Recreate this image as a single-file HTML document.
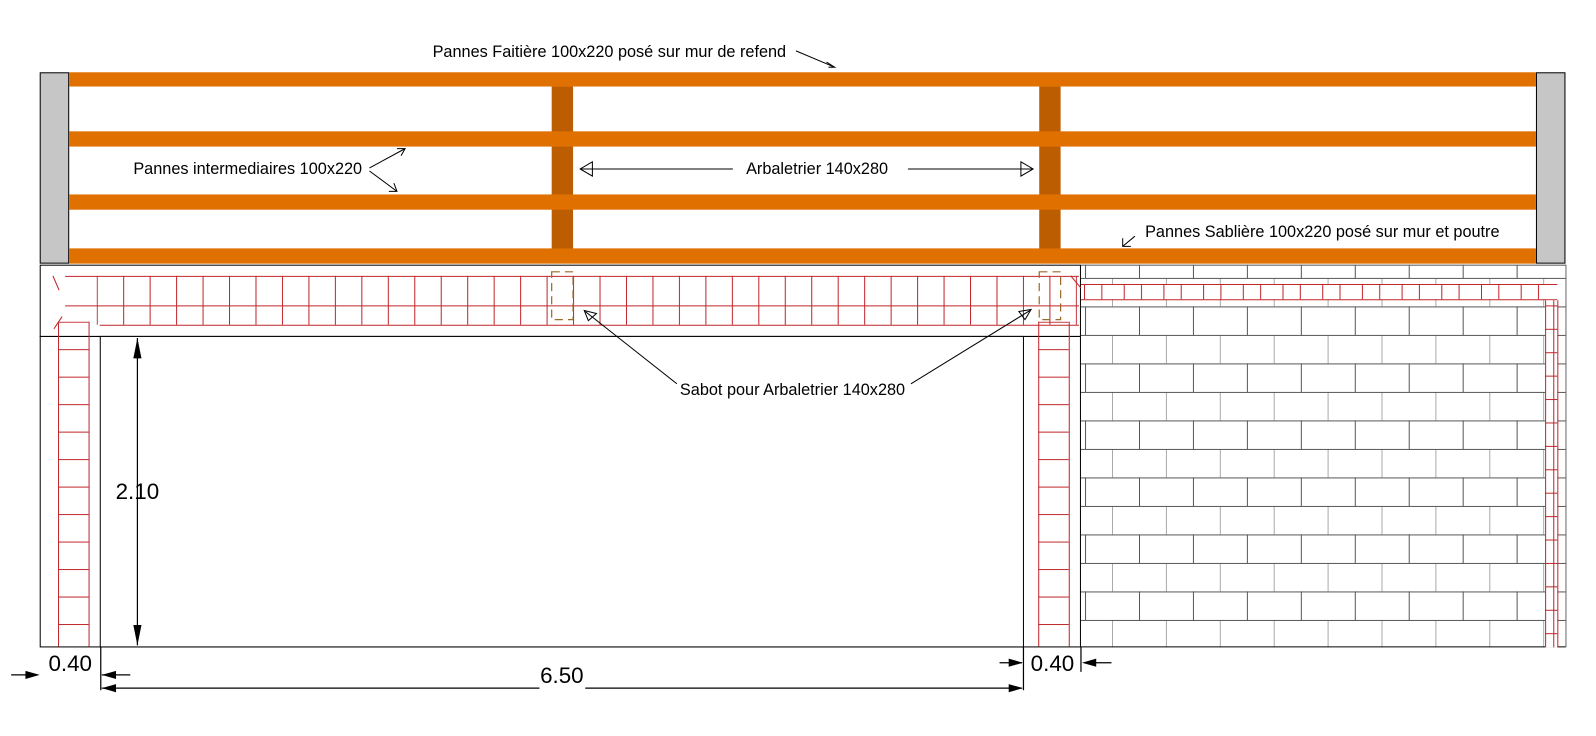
<!DOCTYPE html>
<html><head><meta charset="utf-8"><style>
html,body{margin:0;padding:0;background:#fff;}
svg{display:block;}
text{font-family:"Liberation Sans",sans-serif;}
</style></head><body>
<svg width="1596" height="736" viewBox="0 0 1568 723" preserveAspectRatio="none" xmlns="http://www.w3.org/2000/svg">
<defs>
<pattern id="lint" x="95" y="0" width="26" height="736" patternUnits="userSpaceOnUse">
<line x1="0.5" y1="0" x2="0.5" y2="736" stroke="#c0262a" stroke-width="1"/>
</pattern>
<pattern id="rung" x="0" y="316" width="30" height="27" patternUnits="userSpaceOnUse">
<line x1="0" y1="0.5" x2="30" y2="0.5" stroke="#c0262a" stroke-width="1"/>
</pattern>
<pattern id="brick" x="1040" y="273" width="53" height="56" patternUnits="userSpaceOnUse">
<line x1="0" y1="0.5" x2="53" y2="0.5" stroke="#555" stroke-width="1"/>
<line x1="0" y1="28.5" x2="53" y2="28.5" stroke="#555" stroke-width="1"/>
<line x1="53" y1="0" x2="53" y2="28" stroke="#555" stroke-width="1"/>
<line x1="26.5" y1="28" x2="26.5" y2="56" stroke="#555" stroke-width="1"/>
</pattern>
<pattern id="rtick" x="1065" y="0" width="39" height="736" patternUnits="userSpaceOnUse">
<line x1="0.5" y1="0" x2="0.5" y2="736" stroke="#c0262a"/>
<line x1="17.5" y1="0" x2="17.5" y2="736" stroke="#c0262a"/>
</pattern>
<pattern id="rrung" x="0" y="300" width="20" height="23" patternUnits="userSpaceOnUse">
<line x1="0" y1="0.5" x2="20" y2="0.5" stroke="#c0262a"/>
</pattern>
</defs>

<rect x="1062" y="260" width="476" height="376" fill="url(#brick)"/>
<line x1="1062" y1="260.5" x2="1538" y2="260.5" stroke="#666"/>
<line x1="1062" y1="635.5" x2="1538" y2="635.5" stroke="#000"/>
<line x1="1538.5" y1="260" x2="1538.5" y2="636" stroke="#666"/>
<rect x="1065" y="279" width="465" height="15" fill="#fff"/>
<rect x="1065" y="279" width="465" height="15" fill="url(#rtick)"/>
<line x1="1062" y1="279.5" x2="1530" y2="279.5" stroke="#c0262a"/>
<line x1="1062" y1="294.5" x2="1530" y2="294.5" stroke="#c0262a"/>
<rect x="1518" y="295" width="12" height="341" fill="#fff"/>
<rect x="1518" y="295" width="12" height="341" fill="url(#rrung)"/>
<line x1="1518.5" y1="295" x2="1518.5" y2="636" stroke="#c0262a"/>
<line x1="1530.5" y1="295" x2="1530.5" y2="636" stroke="#c0262a"/>
<line x1="1526.5" y1="295" x2="1526.5" y2="636" stroke="#c0262a"/>

<rect x="39.5" y="260.5" width="1022" height="70" fill="#fff" stroke="#000"/>
<rect x="95" y="271" width="963" height="48" fill="url(#lint)"/>
<line x1="64" y1="271.5" x2="1060" y2="271.5" stroke="#c0262a"/>
<line x1="64" y1="300.5" x2="1060" y2="300.5" stroke="#c0262a"/>
<line x1="98" y1="319.5" x2="1060" y2="319.5" stroke="#c0262a"/>
<line x1="52" y1="271" x2="58" y2="285" stroke="#c0262a"/>
<line x1="53" y1="323" x2="61" y2="311" stroke="#c0262a"/>
<line x1="1052" y1="271" x2="1062" y2="283" stroke="#c0262a"/>

<rect x="39.5" y="330.5" width="1022" height="305" fill="none" stroke="#000"/>
<rect x="98.5" y="330.5" width="907" height="305" fill="#fff" stroke="#000"/>
<rect x="57" y="316" width="30" height="319" fill="url(#rung)"/>
<line x1="57.5" y1="316" x2="57.5" y2="635" stroke="#c0262a"/>
<line x1="87.5" y1="316" x2="87.5" y2="635" stroke="#c0262a"/>
<rect x="1020" y="316" width="30" height="319" fill="url(#rung)"/>
<line x1="1020.5" y1="316" x2="1020.5" y2="635" stroke="#c0262a"/>
<line x1="1050.5" y1="316" x2="1050.5" y2="635" stroke="#c0262a"/>

<g stroke="#9a6a2a" stroke-width="1.2" stroke-dasharray="8,5" fill="none">
<rect x="542" y="267" width="21" height="47"/>
<rect x="1021" y="267" width="21" height="47"/>
</g>

<rect x="39.5" y="71.5" width="28" height="187" fill="#c6c6c6" stroke="#000"/>
<rect x="1509.5" y="71.5" width="28" height="187" fill="#c6c6c6" stroke="#000"/>
<rect x="542" y="85" width="21" height="160" fill="#bb5d00"/>
<rect x="1021" y="85" width="21" height="160" fill="#bb5d00"/>
<g fill="#e07000">
<rect x="68" y="71" width="1441" height="14"/>
<rect x="68" y="129" width="1441" height="15"/>
<rect x="68" y="191" width="1441" height="15"/>
<rect x="68" y="244" width="1441" height="15"/>
</g>

<g font-size="16" fill="#000">
<text x="425" y="56">Pannes Faitière 100x220 posé sur mur de refend</text>
<text x="131" y="171">Pannes intermediaires 100x220</text>
<text x="733" y="171">Arbaletrier 140x280</text>
<text x="1125" y="233">Pannes Sablière 100x220 posé sur mur et poutre</text>
<text x="668" y="388">Sabot pour Arbaletrier 140x280</text>
</g>
<g stroke="#000" stroke-width="1" fill="none">
<line x1="782" y1="50" x2="820" y2="66"/>
<path d="M812,61 L820,66 L814,66"/>
<path d="M363,165 L398,146 M390,146 L398,146 L394,153"/>
<path d="M363,168 L390,188 M382,188 L390,188 L387,180"/>
<line x1="570" y1="166" x2="720" y2="166"/>
<path d="M582,159 L570,166 L582,173 Z"/>
<line x1="892" y1="166" x2="1015" y2="166"/>
<path d="M1003,159 L1015,166 L1003,173 Z"/>
<path d="M1115,232 L1103,242 M1103,234 L1103,242 L1111,242"/>
<line x1="665" y1="377" x2="575" y2="306"/>
<path d="M574,305 L586,308 L578,315 Z"/>
<line x1="895" y1="377" x2="1012" y2="305"/>
<path d="M1013,304 L1001,306 L1007,314 Z"/>
</g>

<g stroke="#000" stroke-width="1.2">
<line x1="135" y1="332" x2="135" y2="634"/>
<line x1="11" y1="663" x2="36" y2="663"/>
<line x1="100" y1="663" x2="128" y2="663"/>
<line x1="100" y1="676" x2="530" y2="676"/>
<line x1="575" y1="676" x2="1004" y2="676"/>
<line x1="99" y1="635" x2="99" y2="678"/>
<line x1="1005.5" y1="635" x2="1005.5" y2="678"/>
<line x1="1062" y1="635" x2="1062" y2="660"/>
<line x1="1067" y1="651" x2="1092" y2="651"/>
<line x1="982" y1="651" x2="1004" y2="651"/>
</g>
<g fill="#000">
<path d="M135,332 L131,352 L139,352 Z"/>
<path d="M135,634 L131,614 L139,614 Z"/>
<path d="M39,663 L25,659 L25,667 Z"/>
<path d="M100,663 L114,659 L114,667 Z"/>
<path d="M100,676 L114,672 L114,680 Z"/>
<path d="M1005,676 L991,672 L991,680 Z"/>
<path d="M1005,651 L991,647 L991,655 Z"/>
<path d="M1063,651 L1077,647 L1077,655 Z"/>
</g>
<g font-size="22" fill="#000" text-anchor="middle">
<text x="135" y="490">2.10</text>
<text x="552" y="671">6.50</text>
<text x="69" y="659">0.40</text>
<text x="1034" y="659">0.40</text>
</g>
</svg>
</body></html>
